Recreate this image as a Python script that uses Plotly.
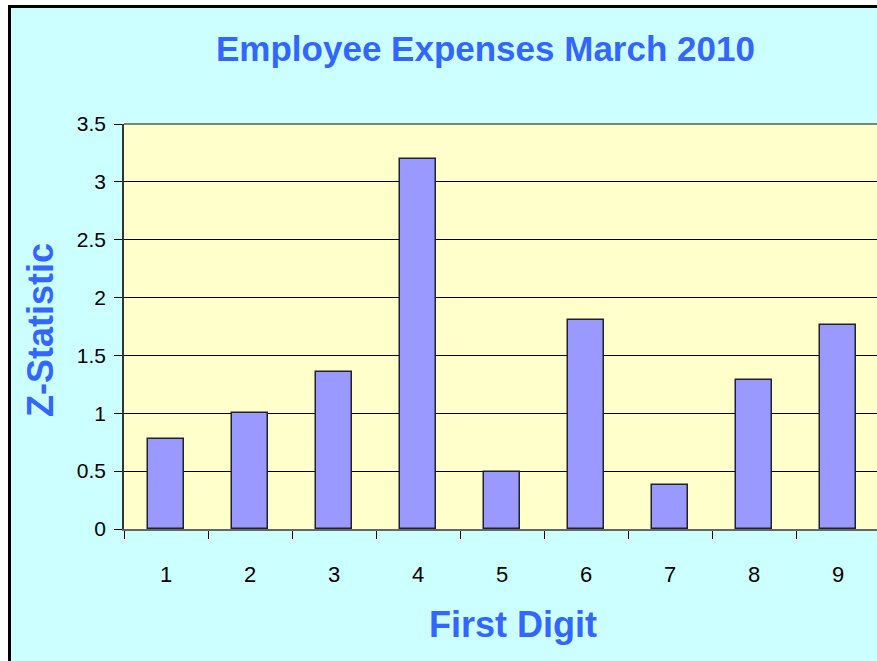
"""
Employee Expenses March 2010 - first digit Z-statistics
"""

import plotly.graph_objects as go

# data
digits = ['1', '2', '3', '4', '5', '6', '7', '8', '9']
z_stat = [0.78, 1.0, 1.36, 3.2, 0.49, 1.81, 0.38, 1.29, 1.76]
y_ticks = [0, 0.5, 1, 1.5, 2, 2.5, 3, 3.5]
y_tick_labels = ['0', '0.5', '1', '1.5', '2', '2.5', '3', '3.5']

W, H = 877, 661
L, T, B = 124, 124, 132
PW, PH = W - L, H - T - B

BLUE = '#3366FF'
FONT = 'Liberation Sans, Arial, sans-serif'


def px(x):
    return (x - L) / PW


def py(y):
    return (H - B - y) / PH


fig = go.Figure()

fig.add_trace(go.Bar(
    x=digits,
    y=z_stat,
    width=0.43,
    marker=dict(color='#9999FF', line=dict(color='#222222', width=1.5)),
    showlegend=False,
))

shapes = [
    # white margin + black frame (left and top only, the rest is cropped)
    dict(type='rect', xref='paper', yref='paper', x0=px(-5), x1=px(8),
         y0=py(H + 5), y1=py(-5), fillcolor='white', line_width=0, layer='above'),
    dict(type='rect', xref='paper', yref='paper', x0=px(-5), x1=px(W + 5),
         y0=py(5), y1=py(-5), fillcolor='white', line_width=0, layer='above'),
    dict(type='line', xref='paper', yref='paper', x0=px(9.5), x1=px(9.5),
         y0=py(5), y1=py(H + 5), line=dict(color='black', width=3), layer='above'),
    dict(type='line', xref='paper', yref='paper', x0=px(8), x1=px(W + 5),
         y0=py(6.5), y1=py(6.5), line=dict(color='black', width=3), layer='above'),
    # grey plot-area top border
    dict(type='line', xref='paper', yref='paper', x0=0, x1=1.05,
         y0=1, y1=1, line=dict(color='#808080', width=2)),
]

annotations = [
    dict(text='<b>Employee Expenses March 2010</b>', xref='paper', yref='paper',
         x=px(485), y=py(48), showarrow=False, xanchor='center', yanchor='middle',
         font=dict(size=35, color=BLUE, family=FONT)),
    dict(text='<b>Z-Statistic</b>', xref='paper', yref='paper',
         x=px(40), y=py(330), showarrow=False, textangle=-90,
         xanchor='center', yanchor='middle',
         font=dict(size=36, color=BLUE, family=FONT)),
    dict(text='<b>First Digit</b>', xref='paper', yref='paper',
         x=px(513), y=py(624), showarrow=False, xanchor='center', yanchor='middle',
         font=dict(size=36, color=BLUE, family=FONT)),
]

fig.update_layout(
    width=W,
    height=H,
    margin=dict(l=L, r=0, t=T, b=B, pad=0),
    paper_bgcolor='#CCFFFF',
    plot_bgcolor='#FFFFCC',
    font=dict(family=FONT, color='black', size=21),
    bargap=0,
    xaxis=dict(
        type='category',
        range=[-0.5, 8.464],
        tickson='boundaries',
        ticks='outside',
        ticklen=8,
        tickcolor='black',
        ticklabelstandoff=25,
        showgrid=False,
        showline=True,
        linecolor='#666666',
        linewidth=2,
        zeroline=False,
        tickfont=dict(size=22),
    ),
    yaxis=dict(
        range=[0, 3.5],
        tickvals=y_ticks,
        ticktext=y_tick_labels,
        ticks='outside',
        ticklen=8,
        tickcolor='black',
        ticklabelstandoff=4,
        showgrid=True,
        gridcolor='black',
        gridwidth=1,
        showline=True,
        linecolor='#333333',
        linewidth=1.5,
        zeroline=False,
        tickfont=dict(size=21),
    ),
    shapes=shapes,
    annotations=annotations,
)

# drop the default page margin so the figure sits at the window corner
fig.write_html('out.html', config={'displayModeBar': False},
               post_script="document.body.style.margin='0';")
